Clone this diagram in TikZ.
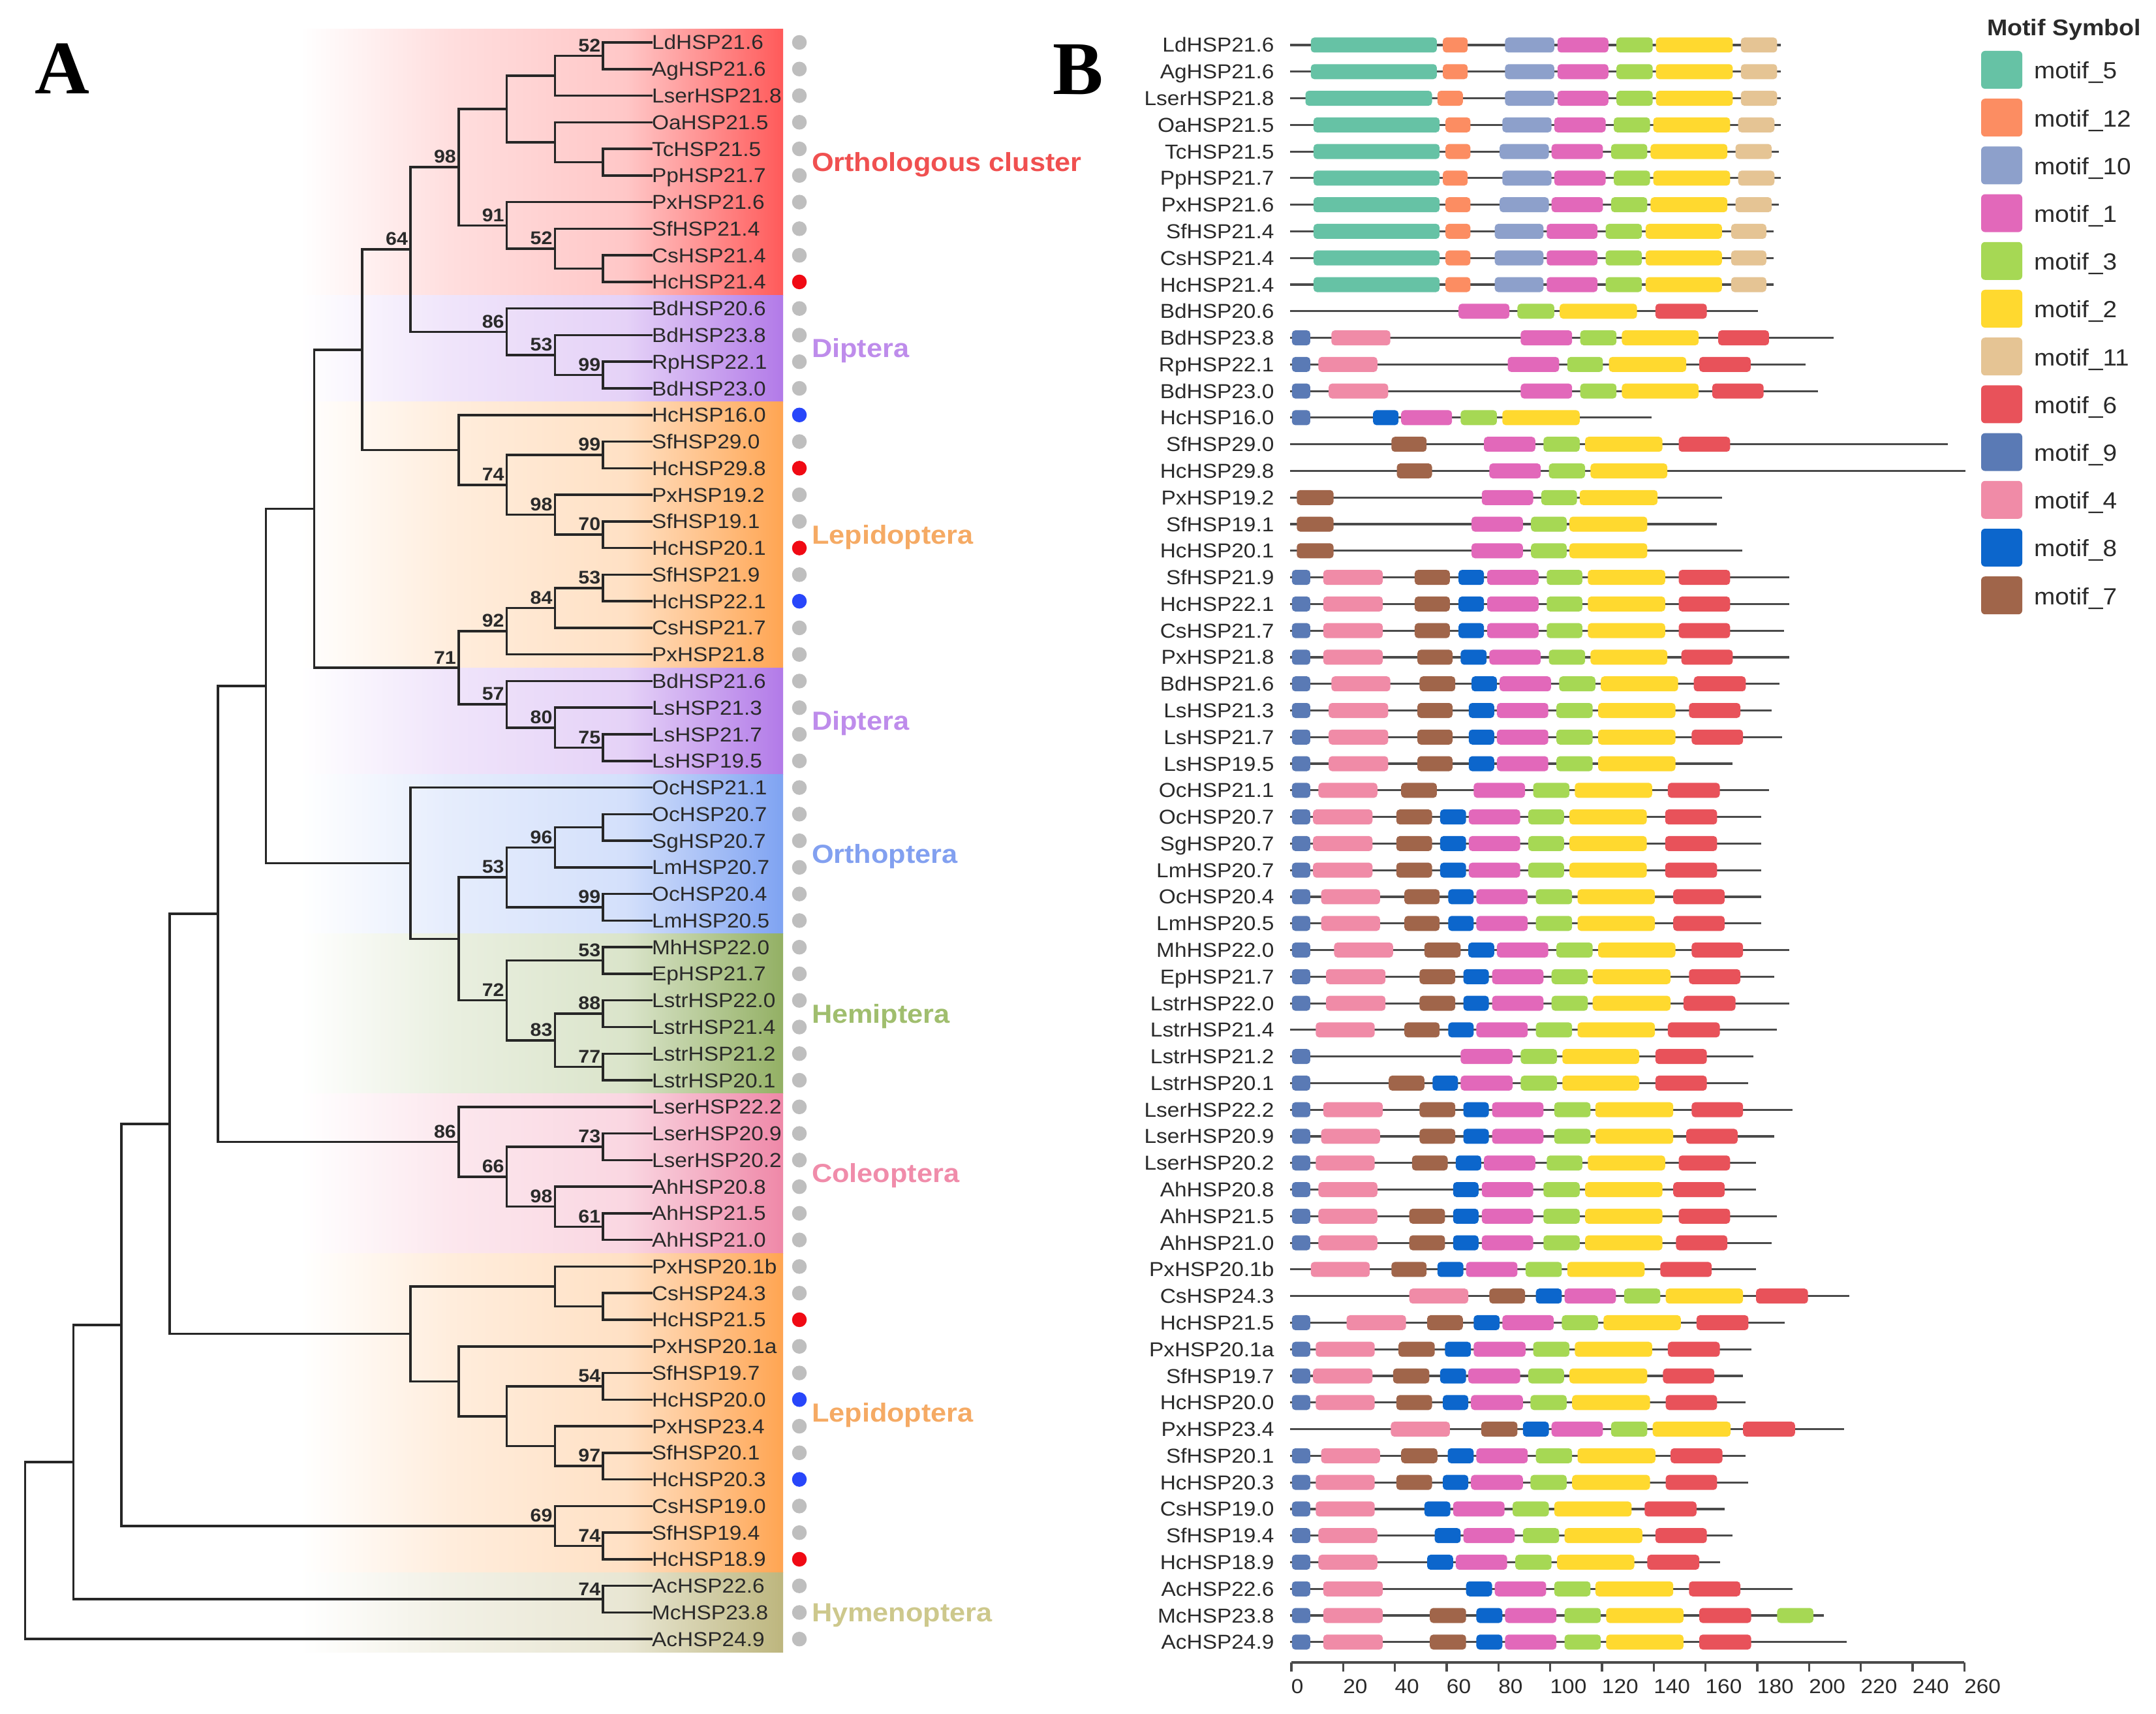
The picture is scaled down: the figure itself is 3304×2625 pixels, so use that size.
\documentclass[tikz,border=0pt]{standalone}
\usepackage{fontspec}
\setmainfont{Liberation Sans}[FakeStretch=1.08]
\newfontfamily\ABfont{Liberation Serif}
\usetikzlibrary{calc}
% band colours
\definecolor{bR}{RGB}{255,90,90}
\definecolor{bP}{RGB}{178,122,232}
\definecolor{bO}{RGB}{255,165,82}
\definecolor{bB}{RGB}{127,163,242}
\definecolor{bG}{RGB}{147,176,100}
\definecolor{bK}{RGB}{239,136,168}
\definecolor{bY}{RGB}{189,182,126}
% group label colours
\definecolor{gR}{RGB}{240,80,80}
\definecolor{gP}{RGB}{190,140,235}
\definecolor{gO}{RGB}{245,170,100}
\definecolor{gB}{RGB}{130,160,240}
\definecolor{gG}{RGB}{160,190,110}
\definecolor{gK}{RGB}{240,140,170}
\definecolor{gY}{RGB}{205,200,140}
% dots
\definecolor{dG}{RGB}{190,190,190}
\definecolor{dR}{RGB}{240,10,20}
\definecolor{dB}{RGB}{40,70,250}
% motifs
\definecolor{m5}{HTML}{66C2A5}
\definecolor{m12}{HTML}{FC8D62}
\definecolor{m10}{HTML}{8DA0CB}
\definecolor{m1}{RGB}{226,104,186}
\definecolor{m3}{HTML}{A6D854}
\definecolor{m2}{HTML}{FFD92F}
\definecolor{m11}{HTML}{E5C494}
\definecolor{m6}{RGB}{232,82,90}
\definecolor{m9}{RGB}{90,122,181}
\definecolor{m4}{RGB}{240,139,167}
\definecolor{m8}{RGB}{12,102,204}
\definecolor{m7}{RGB}{160,101,74}
\definecolor{treec}{HTML}{262626}
\definecolor{txt}{HTML}{2A2A2A}
\definecolor{bbc}{HTML}{4A4A4A}

\newcommand\band[3]{%
  \shade[left color=white,right color=#3!20!white] (460,{24.23+40.77*#1}) rectangle (690,{24.23+40.77*#2});%
  \shade[left color=#3!20!white,right color=#3!34!white] (689,{24.23+40.77*#1}) rectangle (961,{24.23+40.77*#2});%
  \shade[left color=#3!34!white,right color=#3] (960,{24.23+40.77*#1}) rectangle (1200,{24.23+40.77*#2});}
\newcommand\mkn[3]{\coordinate (#1) at ({998-73.8*#2},{24.23+40.77*#3});}
\newcommand\mkc[3]{\draw[br] (#1) |- (#2); \draw[br] (#1) |- (#3);}
\newcommand\mkb[2]{\node[boot] (bs#1) at ($(#1)+(-4,-6)$) {#2};}
\newcommand\mrow[3]{%
  \pgfmathsetmacro\yb{28.22+40.78*#1}%
  \draw[bb] (285,\yb) -- (#2,\yb);%
  \foreach \mc/\ma/\mb in {#3}{\fill[\mc, rounded corners=1.5pt] (\ma,{\yb-11.5}) rectangle (\mb,{\yb+11.5});}%
}

\begin{document}
\begin{tikzpicture}[x=0.01cm,y=-0.01cm,
  every node/.style={inner sep=0pt,outer sep=0pt},
  br/.style={draw=treec,line width=1pt,line cap=rect},
  bb/.style={draw=bbc,line width=0.9pt},
  leaf/.style={font=\fontsize{8.8}{10}\selectfont,text=txt,anchor=base west},
  blab/.style={font=\fontsize{8.8}{10}\selectfont,text=txt,anchor=base east},
  boot/.style={font=\bfseries\fontsize{8}{9}\selectfont,text=txt,anchor=south east},
  grp/.style={font=\bfseries\fontsize{11.4}{13}\selectfont,anchor=base west},
  dot/.style={circle,minimum size=0.225cm}]
\useasboundingbox[fill=white] (0,0) rectangle (3304,2625);

% ---------- panel A : coloured bands ----------
\band{0.5}{10.5}{bR}
\band{10.5}{14.5}{bP}
\band{14.5}{24.5}{bO}
\band{24.5}{28.5}{bP}
\band{28.5}{34.5}{bB}
\band{34.5}{40.5}{bG}
\band{40.5}{46.5}{bK}
\band{46.5}{58.5}{bO}
\band{58.5}{61.5}{bY}

% ---------- leaves ----------
\foreach \nm/\dc [count=\i] in {LdHSP21.6/dG,AgHSP21.6/dG,LserHSP21.8/dG,OaHSP21.5/dG,TcHSP21.5/dG,PpHSP21.7/dG,PxHSP21.6/dG,SfHSP21.4/dG,CsHSP21.4/dG,HcHSP21.4/dR,BdHSP20.6/dG,BdHSP23.8/dG,RpHSP22.1/dG,BdHSP23.0/dG,HcHSP16.0/dB,SfHSP29.0/dG,HcHSP29.8/dR,PxHSP19.2/dG,SfHSP19.1/dG,HcHSP20.1/dR,SfHSP21.9/dG,HcHSP22.1/dB,CsHSP21.7/dG,PxHSP21.8/dG,BdHSP21.6/dG,LsHSP21.3/dG,LsHSP21.7/dG,LsHSP19.5/dG,OcHSP21.1/dG,OcHSP20.7/dG,SgHSP20.7/dG,LmHSP20.7/dG,OcHSP20.4/dG,LmHSP20.5/dG,MhHSP22.0/dG,EpHSP21.7/dG,LstrHSP22.0/dG,LstrHSP21.4/dG,LstrHSP21.2/dG,LstrHSP20.1/dG,LserHSP22.2/dG,LserHSP20.9/dG,LserHSP20.2/dG,AhHSP20.8/dG,AhHSP21.5/dG,AhHSP21.0/dG,PxHSP20.1b/dG,CsHSP24.3/dG,HcHSP21.5/dR,PxHSP20.1a/dG,SfHSP19.7/dG,HcHSP20.0/dB,PxHSP23.4/dG,SfHSP20.1/dG,HcHSP20.3/dB,CsHSP19.0/dG,SfHSP19.4/dG,HcHSP18.9/dR,AcHSP22.6/dG,McHSP23.8/dG,AcHSP24.9/dG}{
  \coordinate (t\i) at (998,{24.23+40.77*\i});
  \node[leaf] (la\i) at (999,{24.23+40.77*\i+11}) {\nm};
  \node[dot,fill=\dc] (d\i) at (1225,{24.23+40.77*\i}) {};
}

% ---------- internal nodes ----------
\mkn{a}{1}{1.5}      \mkn{b}{2}{2.25}     \mkn{c}{1}{5.5}     \mkn{d}{2}{4.75}
\mkn{e}{3}{3.5}      \mkn{f}{1}{9.5}      \mkn{g}{2}{8.75}    \mkn{h}{3}{7.875}
\mkn{i}{4}{5.6875}   \mkn{j}{1}{13.5}     \mkn{k}{2}{12.75}   \mkn{l}{3}{11.875}
\mkn{m}{5}{8.78125}  \mkn{n}{1}{16.5}     \mkn{o}{1}{19.5}    \mkn{p}{2}{18.75}
\mkn{q}{3}{17.625}   \mkn{r}{4}{16.3125}  \mkn{s}{6}{12.546875}
\mkn{tt}{1}{21.5}    \mkn{u}{2}{22.25}    \mkn{v}{3}{23.125}
\mkn{w}{1}{27.5}     \mkn{x}{2}{26.75}    \mkn{y}{3}{25.875}  \mkn{z}{4}{24.5}
\mkn{A1}{7}{18.5234375}
\mkn{B1}{1}{30.5}    \mkn{B2}{2}{31.25}   \mkn{B3}{1}{33.5}   \mkn{B4}{3}{32.375}
\mkn{E1}{1}{35.5}    \mkn{E2}{1}{37.5}    \mkn{E3}{1}{39.5}   \mkn{E4}{2}{38.5}
\mkn{E5}{3}{37}      \mkn{C}{4}{34.6875}  \mkn{D}{5}{31.84375}
\mkn{F}{8}{25.18359375}
\mkn{G1}{1}{42.5}    \mkn{G2}{1}{45.5}    \mkn{G3}{2}{44.75}  \mkn{G4}{3}{43.625}
\mkn{G5}{4}{42.3125} \mkn{H}{9}{33.748046875}
\mkn{I1}{1}{48.5}    \mkn{I2}{2}{47.75}   \mkn{I3}{1}{51.5}   \mkn{I4}{1}{54.5}
\mkn{I5}{2}{53.75}   \mkn{I6}{3}{52.625}  \mkn{I7}{4}{51.3125} \mkn{I8}{5}{49.53125}
\mkn{J}{10}{41.6396484375}
\mkn{K1}{1}{57.5}    \mkn{K2}{2}{56.75}   \mkn{K}{11}{49.19482421875}
\mkn{M1}{1}{59.5}    \mkn{N}{12}{54.347412109375} \mkn{R}{13}{57.6737060546875}

% ---------- branches ----------
\mkc{a}{t1}{t2}   \mkc{b}{a}{t3}   \mkc{c}{t5}{t6}   \mkc{d}{t4}{c}   \mkc{e}{b}{d}
\mkc{f}{t9}{t10}  \mkc{g}{t8}{f}   \mkc{h}{t7}{g}    \mkc{i}{e}{h}
\mkc{j}{t13}{t14} \mkc{k}{t12}{j}  \mkc{l}{t11}{k}   \mkc{m}{i}{l}
\mkc{n}{t16}{t17} \mkc{o}{t19}{t20} \mkc{p}{t18}{o}  \mkc{q}{n}{p}   \mkc{r}{t15}{q}
\mkc{s}{m}{r}
\mkc{tt}{t21}{t22} \mkc{u}{tt}{t23} \mkc{v}{u}{t24}
\mkc{w}{t27}{t28} \mkc{x}{t26}{w}  \mkc{y}{t25}{x}   \mkc{z}{v}{y}
\mkc{A1}{s}{z}
\mkc{B1}{t30}{t31} \mkc{B2}{B1}{t32} \mkc{B3}{t33}{t34} \mkc{B4}{B2}{B3}
\mkc{E1}{t35}{t36} \mkc{E2}{t37}{t38} \mkc{E3}{t39}{t40} \mkc{E4}{E2}{E3}
\mkc{E5}{E1}{E4} \mkc{C}{B4}{E5} \mkc{D}{t29}{C}
\mkc{F}{A1}{D}
\mkc{G1}{t42}{t43} \mkc{G2}{t45}{t46} \mkc{G3}{t44}{G2} \mkc{G4}{G1}{G3}
\mkc{G5}{t41}{G4} \mkc{H}{F}{G5}
\mkc{I1}{t48}{t49} \mkc{I2}{t47}{I1} \mkc{I3}{t51}{t52} \mkc{I4}{t54}{t55}
\mkc{I5}{t53}{I4} \mkc{I6}{I3}{I5} \mkc{I7}{t50}{I6} \mkc{I8}{I2}{I7}
\mkc{J}{H}{I8}
\mkc{K1}{t57}{t58} \mkc{K2}{t56}{K1} \mkc{K}{J}{K2}
\mkc{M1}{t59}{t60} \mkc{N}{K}{M1} \mkc{R}{N}{t61}

% ---------- bootstrap values ----------
\mkb{a}{52} \mkb{i}{98} \mkb{h}{91} \mkb{g}{52} \mkb{m}{64}
\mkb{l}{86} \mkb{k}{53} \mkb{j}{99}
\mkb{n}{99} \mkb{q}{74} \mkb{p}{98} \mkb{o}{70}
\mkb{tt}{53} \mkb{u}{84} \mkb{v}{92} \mkb{z}{71}
\mkb{y}{57} \mkb{x}{80} \mkb{w}{75}
\mkb{B2}{96} \mkb{B4}{53} \mkb{B3}{99}
\mkb{E1}{53} \mkb{E5}{72} \mkb{E2}{88} \mkb{E4}{83} \mkb{E3}{77}
\mkb{G5}{86} \mkb{G1}{73} \mkb{G4}{66} \mkb{G3}{98} \mkb{G2}{61}
\mkb{I3}{54} \mkb{I4}{97} \mkb{K2}{69} \mkb{K1}{74} \mkb{M1}{74}

% ---------- group labels ----------
\node[grp,text=gR] (g1) at (1244,{24.23+40.77*5.5+14}) {Orthologous cluster};
\node[grp,text=gP] (g2) at (1244,{24.23+40.77*12.5+14}) {Diptera};
\node[grp,text=gO] (g3) at (1244,{24.23+40.77*19.5+14}) {Lepidoptera};
\node[grp,text=gP] (g4) at (1244,{24.23+40.77*26.5+14}) {Diptera};
\node[grp,text=gB] (g5) at (1244,{24.23+40.77*31.5+14}) {Orthoptera};
\node[grp,text=gG] (g6) at (1244,{24.23+40.77*37.5+14}) {Hemiptera};
\node[grp,text=gK] (g7) at (1244,{24.23+40.77*43.5+14}) {Coleoptera};
\node[grp,text=gO] (g8) at (1244,{24.23+40.77*52.5+14}) {Lepidoptera};
\node[grp,text=gY] (g9) at (1244,{24.23+40.77*60+14}) {Hymenoptera};

% ---------- panel letters ----------
\node[font=\ABfont\bfseries\fontsize{33}{36}\selectfont,anchor=base west] (labA) at (54,144) {A};
\node[font=\ABfont\bfseries\fontsize{33}{36}\selectfont,anchor=base west] (labB) at (1613,145) {B};

% ---------- panel B ----------
\begin{scope}[xshift=17.4cm,x=0.008291cm]
\foreach \nm [count=\i] in {LdHSP21.6,AgHSP21.6,LserHSP21.8,OaHSP21.5,TcHSP21.5,PpHSP21.7,PxHSP21.6,SfHSP21.4,CsHSP21.4,HcHSP21.4,BdHSP20.6,BdHSP23.8,RpHSP22.1,BdHSP23.0,HcHSP16.0,SfHSP29.0,HcHSP29.8,PxHSP19.2,SfHSP19.1,HcHSP20.1,SfHSP21.9,HcHSP22.1,CsHSP21.7,PxHSP21.8,BdHSP21.6,LsHSP21.3,LsHSP21.7,LsHSP19.5,OcHSP21.1,OcHSP20.7,SgHSP20.7,LmHSP20.7,OcHSP20.4,LmHSP20.5,MhHSP22.0,EpHSP21.7,LstrHSP22.0,LstrHSP21.4,LstrHSP21.2,LstrHSP20.1,LserHSP22.2,LserHSP20.9,LserHSP20.2,AhHSP20.8,AhHSP21.5,AhHSP21.0,PxHSP20.1b,CsHSP24.3,HcHSP21.5,PxHSP20.1a,SfHSP19.7,HcHSP20.0,PxHSP23.4,SfHSP20.1,HcHSP20.3,CsHSP19.0,SfHSP19.4,HcHSP18.9,AcHSP22.6,McHSP23.8,AcHSP24.9}{
  \node[blab] (lb\i) at (255,{28.22+40.78*\i+11}) {\nm};
}
\mrow{1}{1192}{m5/323/556,m12/567/613,m10/682/773,m1/779/873,m3/888/955,m2/961/1103,m11/1118/1185}
\mrow{2}{1192}{m5/323/556,m12/567/613,m10/682/773,m1/779/873,m3/888/955,m2/961/1103,m11/1118/1185}
\mrow{3}{1192}{m5/313/547,m12/557/604,m10/682/773,m1/779/873,m3/888/955,m2/961/1103,m11/1118/1185}
\mrow{4}{1192}{m5/328/561,m12/572/618,m10/677/768,m1/773/868,m3/883/950,m2/956/1098,m11/1113/1180}
\mrow{5}{1188}{m5/328/561,m12/572/618,m10/672/763,m1/768/863,m3/878/945,m2/951/1093,m11/1108/1175}
\mrow{6}{1192}{m5/328/561,m12/567/613,m10/677/768,m1/773/868,m3/883/950,m2/956/1098,m11/1113/1180}
\mrow{7}{1188}{m5/328/561,m12/572/618,m10/672/763,m1/768/863,m3/878/945,m2/951/1093,m11/1108/1175}
\mrow{8}{1178}{m5/328/561,m12/572/618,m10/663/753,m1/759/853,m3/868/935,m2/942/1083,m11/1100/1165}
\mrow{9}{1178}{m5/328/561,m12/572/618,m10/663/753,m1/759/853,m3/868/935,m2/942/1083,m11/1100/1165}
\mrow{10}{1178}{m5/328/561,m12/572/618,m10/663/753,m1/759/853,m3/868/935,m2/942/1083,m11/1100/1165}
\mrow{11}{1150}{m1/596/690,m3/705/773,m2/783/926,m6/960/1055}
\mrow{12}{1290}{m9/288/322,m4/361/470,m1/711/806,m3/821/888,m2/898/1040,m6/1076/1170}
\mrow{13}{1237}{m9/288/322,m4/337/446,m1/687/782,m3/797/863,m2/874/1017,m6/1041/1136}
\mrow{14}{1261}{m9/288/322,m4/356/466,m1/711/806,m3/821/888,m2/898/1040,m6/1065/1160}
\mrow{15}{953}{m9/288/322,m8/438/485,m1/490/584,m3/600/667,m2/677/820}
\mrow{16}{1500}{m7/472/537,m1/643/738,m3/753/820,m2/830/973,m6/1003/1098}
\mrow{17}{1533}{m7/482/547,m1/653/748,m3/763/830,m2/840/982}
\mrow{18}{1083}{m7/297/365,m1/639/734,m3/749/815,m2/820/964}
\mrow{19}{1073}{m7/297/365,m1/620/715,m3/730/796,m2/801/945}
\mrow{20}{1121}{m7/297/365,m1/620/715,m3/730/796,m2/801/945}
\mrow{21}{1208}{m9/288/322,m4/346/456,m7/515/580,m8/596/643,m1/649/744,m3/759/825,m2/835/978,m6/1003/1098}
\mrow{22}{1208}{m9/288/322,m4/346/456,m7/515/580,m8/596/643,m1/649/744,m3/759/825,m2/835/978,m6/1003/1098}
\mrow{23}{1198}{m9/288/322,m4/346/456,m7/515/580,m8/596/643,m1/649/744,m3/759/825,m2/835/978,m6/1003/1098}
\mrow{24}{1208}{m9/288/322,m4/346/456,m7/520/585,m8/600/648,m1/653/748,m3/763/830,m2/840/982,m6/1008/1103}
\mrow{25}{1189}{m9/288/322,m4/361/470,m7/524/590,m8/620/667,m1/672/767,m3/782/849,m2/859/1002,m6/1031/1127}
\mrow{26}{1175}{m9/288/322,m4/356/466,m7/520/585,m8/615/662,m1/667/762,m3/777/844,m2/854/997,m6/1022/1117}
\mrow{27}{1194}{m9/288/322,m4/356/466,m7/520/585,m8/615/662,m1/667/762,m3/777/844,m2/854/997,m6/1027/1122}
\mrow{28}{1103}{m9/288/322,m4/356/466,m7/520/585,m8/615/662,m1/667/762,m3/777/844,m2/854/997}
\mrow{29}{1170}{m9/288/322,m4/337/446,m7/490/556,m1/624/719,m3/734/801,m2/811/954,m6/983/1079}
\mrow{30}{1156}{m9/288/322,m4/327/437,m7/481/547,m8/562/610,m1/615/710,m3/725/791,m2/801/944,m6/978/1074}
\mrow{31}{1156}{m9/288/322,m4/327/437,m7/481/547,m8/562/610,m1/615/710,m3/725/791,m2/801/944,m6/978/1074}
\mrow{32}{1156}{m9/288/322,m4/327/437,m7/481/547,m8/562/610,m1/615/710,m3/725/791,m2/801/944,m6/978/1074}
\mrow{33}{1156}{m9/288/322,m4/342/451,m7/496/561,m8/577/624,m1/629/724,m3/739/806,m2/816/959,m6/993/1088}
\mrow{34}{1156}{m9/288/322,m4/342/451,m7/496/561,m8/577/624,m1/629/724,m3/739/806,m2/816/959,m6/993/1088}
\mrow{35}{1208}{m9/288/322,m4/366/475,m7/533/600,m8/614/662,m1/667/762,m3/777/844,m2/854/997,m6/1027/1122}
\mrow{36}{1180}{m9/288/322,m4/351/461,m7/524/590,m8/605/652,m1/658/753,m3/768/835,m2/844/988,m6/1022/1117}
\mrow{37}{1208}{m9/288/322,m4/351/461,m7/524/590,m8/605/652,m1/658/753,m3/768/835,m2/844/988,m6/1012/1108}
\mrow{38}{1185}{m4/332/441,m7/496/561,m8/577/624,m1/629/724,m3/739/806,m2/816/959,m6/983/1079}
\mrow{39}{1141}{m9/288/322,m1/600/696,m3/711/778,m2/788/930,m6/960/1055}
\mrow{40}{1132}{m9/288/322,m7/467/533,m8/548/595,m1/600/696,m3/711/778,m2/788/930,m6/960/1055}
\mrow{41}{1214}{m9/288/322,m4/346/456,m7/524/590,m8/605/652,m1/658/753,m3/773/840,m2/849/993,m6/1027/1122}
\mrow{42}{1180}{m9/288/322,m4/342/451,m7/524/590,m8/605/652,m1/658/753,m3/773/840,m2/849/993,m6/1017/1112}
\mrow{43}{1146}{m9/288/322,m4/332/441,m7/510/576,m8/591/638,m1/643/738,m3/759/825,m2/835/978,m6/1003/1098}
\mrow{44}{1146}{m9/288/322,m4/337/446,m8/586/633,m1/639/734,m3/753/820,m2/830/973,m6/993/1088}
\mrow{45}{1185}{m9/288/322,m4/337/446,m7/505/571,m8/586/633,m1/639/734,m3/753/820,m2/830/973,m6/1003/1098}
\mrow{46}{1175}{m9/288/322,m4/337/446,m7/505/571,m8/586/633,m1/639/734,m3/753/820,m2/830/973,m6/998/1093}
\mrow{47}{1146}{m4/323/432,m7/472/537,m8/557/605,m1/610/705,m3/720/787,m2/797/940,m6/969/1064}
\mrow{48}{1319}{m4/505/614,m7/653/719,m8/739/787,m1/792/887,m3/902/969,m2/979/1122,m6/1146/1242}
\mrow{49}{1199}{m9/288/322,m4/389/499,m7/538/604,m8/624/672,m1/677/772,m3/787/854,m2/864/1007,m6/1036/1132}
\mrow{50}{1137}{m9/288/322,m4/332/441,m7/485/552,m8/571/619,m1/624/720,m3/734/801,m2/811/954,m6/983/1079}
\mrow{51}{1122}{m9/288/322,m4/327/437,m7/475/542,m8/562/610,m1/614/710,m3/725/791,m2/801/945,m6/974/1069}
\mrow{52}{1127}{m9/288/322,m4/332/441,m7/481/547,m8/567/614,m1/619/715,m3/729/796,m2/806/950,m6/979/1074}
\mrow{53}{1309}{m4/471/580,m7/638/705,m8/715/763,m1/768/863,m3/878/945,m2/955/1099,m6/1122/1218}
\mrow{54}{1127}{m9/288/322,m4/342/451,m7/490/557,m8/576/624,m1/629/724,m3/739/806,m2/816/960,m6/988/1084}
\mrow{55}{1132}{m9/288/322,m4/332/441,m7/481/547,m8/567/614,m1/619/715,m3/729/796,m2/806/950,m6/979/1074}
\mrow{56}{1088}{m9/288/322,m4/332/441,m8/533/581,m1/586/681,m3/696/763,m2/773/916,m6/940/1036}
\mrow{57}{1103}{m9/288/322,m4/337/446,m8/552/600,m1/605/700,m3/715/782,m2/792/936,m6/960/1055}
\mrow{58}{1079}{m9/288/322,m4/337/446,m8/538/586,m1/591/686,m3/701/768,m2/778/921,m6/945/1041}
\mrow{59}{1213}{m9/288/322,m4/346/456,m8/610/658,m1/663/758,m3/773/840,m2/849/993,m6/1022/1117}
\mrow{60}{1271}{m9/288/322,m4/346/456,m7/543/610,m8/629/677,m1/682/777,m3/792/859,m2/869/1012,m6/1041/1137,m3/1185/1252}
\mrow{61}{1314}{m9/288/322,m4/346/456,m7/543/610,m8/629/677,m1/682/777,m3/792/859,m2/869/1012,m6/1041/1137}
% axis
\draw[draw=bbc,line width=0.9pt] (287,2547) -- (1531,2547);
\foreach \k [evaluate=\k as \v using int(20*\k)] in {0,...,13}{
  \draw[draw=bbc,line width=0.9pt] ({287+95.7*\k},2547) -- ({287+95.7*\k},2561);
  \node[font=\fontsize{8.8}{10}\selectfont,text=txt,anchor=north west] (ax\k) at ({287+95.7*\k},2573) {\v};
}
\end{scope}

% ---------- legend ----------
\node[font=\bfseries\fontsize{9.9}{11}\selectfont,text=txt,anchor=base west] (legt) at (3045,55) {Motif Symbol};
\foreach \mc/\mt [count=\k] in {m5/motif\_5,m12/motif\_12,m10/motif\_10,m1/motif\_1,m3/motif\_3,m2/motif\_2,m11/motif\_11,m6/motif\_6,m9/motif\_9,m4/motif\_4,m8/motif\_8,m7/motif\_7}{
  \fill[\mc,rounded corners=1.7pt] (3036,{107+73.2*(\k-1)-29}) rectangle (3099,{107+73.2*(\k-1)+29});
  \node[font=\fontsize{10.2}{12}\selectfont,text=txt,anchor=base west] (lg\k) at (3117,{107+73.2*(\k-1)+14}) {\mt};
}
\end{tikzpicture}
\end{document}
